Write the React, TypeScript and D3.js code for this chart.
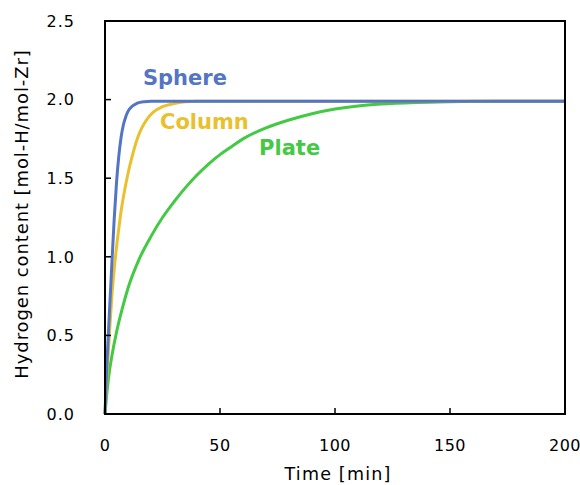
import React, { useEffect, useRef } from 'react';
import * as d3 from 'd3';

// [time (min), hydrogen content (mol-H/mol-Zr)]
const sphere: [number, number][] = [
  [0, 0], [0.5, 0.2], [1, 0.37], [2, 0.67], [3, 0.96], [4, 1.24], [5, 1.47],
  [6, 1.64], [7, 1.76], [8, 1.84], [9, 1.89], [10, 1.925], [12, 1.96],
  [14, 1.977], [17, 1.987], [20, 1.99], [200, 1.99],
];
const column: [number, number][] = [
  [0, 0], [1, 0.28], [2, 0.53], [3, 0.75], [4, 0.92], [5, 1.06], [6, 1.18],
  [7, 1.29], [8, 1.38], [10, 1.53], [12, 1.65], [14, 1.75], [16, 1.82],
  [18, 1.87], [21, 1.92], [25, 1.955], [30, 1.975], [35, 1.986], [40, 1.99],
  [200, 1.99],
];
const plate: [number, number][] = [
  [0, 0], [1, 0.16], [2, 0.28], [3, 0.37], [5, 0.52], [7.5, 0.67], [10, 0.8],
  [15, 0.99], [20, 1.13], [25, 1.25], [30, 1.35], [35, 1.44], [40, 1.52],
  [45, 1.59], [50, 1.65], [55, 1.7], [60, 1.75], [70, 1.82], [80, 1.87],
  [90, 1.91], [100, 1.94], [110, 1.96], [120, 1.972], [135, 1.982],
  [150, 1.987], [170, 1.99], [200, 1.99],
];

const seriesNames = ['Sphere', 'Column', 'Plate'];
const seriesColors = ['#5474c4', '#e9c12e', '#43c943'];
const seriesData = [sphere, column, plate];
const labelPos: [number, number][] = [[16.5, 2.095], [23.9, 1.81], [67, 1.645]];

const xTicks = [0, 50, 100, 150, 200];
const yTicks = [0, 0.5, 1.0, 1.5, 2.0, 2.5];

const App = () => {
  const svgRef = useRef<SVGSVGElement>(null);
  const width = 580;
  const height = 485;
  const margin = { top: 21, right: 15, bottom: 71, left: 105 };

  useEffect(() => {
    const svg = d3.select(svgRef.current);
    svg.selectAll('*').remove();
    const font = 'DejaVu Sans, Verdana, sans-serif';

    const x = d3.scaleLinear().domain([0, 200]).range([margin.left, width - margin.right]);
    const y = d3.scaleLinear().domain([0, 2.5]).range([height - margin.bottom, margin.top]);

    const line = d3.line<[number, number]>()
      .x(d => x(d[0]))
      .y(d => y(d[1]))
      .curve(d3.curveMonotoneX);

    // curves (plate first so blue/yellow sit on top near the start)
    [2, 1, 0].forEach(i => {
      svg.append('path')
        .datum(seriesData[i])
        .attr('d', line)
        .attr('fill', 'none')
        .attr('stroke', seriesColors[i])
        .attr('stroke-width', 3);
    });

    // inward ticks
    const tl = 6;
    svg.append('g').selectAll('line')
      .data(xTicks.slice(1, -1))
      .join('line')
      .attr('x1', d => x(d)).attr('x2', d => x(d))
      .attr('y1', y(0)).attr('y2', y(0) - tl)
      .attr('stroke', '#000').attr('stroke-width', 1.5);
    svg.append('g').selectAll('line')
      .data(yTicks.slice(1, -1))
      .join('line')
      .attr('x1', x(0)).attr('x2', x(0) + tl)
      .attr('y1', d => y(d)).attr('y2', d => y(d))
      .attr('stroke', '#000').attr('stroke-width', 1.5);

    // frame
    svg.append('rect')
      .attr('x', x(0)).attr('y', y(2.5))
      .attr('width', x(200) - x(0)).attr('height', y(0) - y(2.5))
      .attr('fill', 'none').attr('stroke', '#000').attr('stroke-width', 2);

    // tick labels
    svg.append('g').selectAll('text')
      .data(xTicks)
      .join('text')
      .attr('x', d => x(d)).attr('y', 451)
      .attr('text-anchor', 'middle')
      .attr('font-family', font).attr('font-size', 16).attr('letter-spacing', 0.5)
      .text(d => String(d));
    svg.append('g').selectAll('text')
      .data(yTicks)
      .join('text')
      .attr('x', 75).attr('y', d => y(d))
      .attr('dy', '0.36em')
      .attr('text-anchor', 'end')
      .attr('font-family', font).attr('font-size', 16).attr('letter-spacing', 1)
      .text(d => d.toFixed(1));

    // axis titles
    svg.append('text')
      .attr('x', (x(0) + x(200)) / 2 + 3).attr('y', 480)
      .attr('text-anchor', 'middle')
      .attr('font-family', font).attr('font-size', 17.5).attr('letter-spacing', 1.2)
      .text('Time [min]');
    svg.append('text')
      .attr('transform', 'translate(28,214) rotate(-90)')
      .attr('text-anchor', 'middle')
      .attr('font-family', font).attr('font-size', 18).attr('letter-spacing', 0.9)
      .text('Hydrogen content [mol-H/mol-Zr]');

    // series labels
    seriesNames.forEach((name, i) => {
      svg.append('text')
        .attr('x', x(labelPos[i][0]))
        .attr('y', y(labelPos[i][1]))
        .attr('font-family', font).attr('font-weight', 'bold').attr('font-size', 21)
        .attr('fill', seriesColors[i])
        .text(name);
    });
  }, []);

  return (
    <svg ref={svgRef} width={width} height={height}
      style={{ position: 'absolute', left: 0, top: 0, background: '#fff' }} />
  );
};

export default App;
